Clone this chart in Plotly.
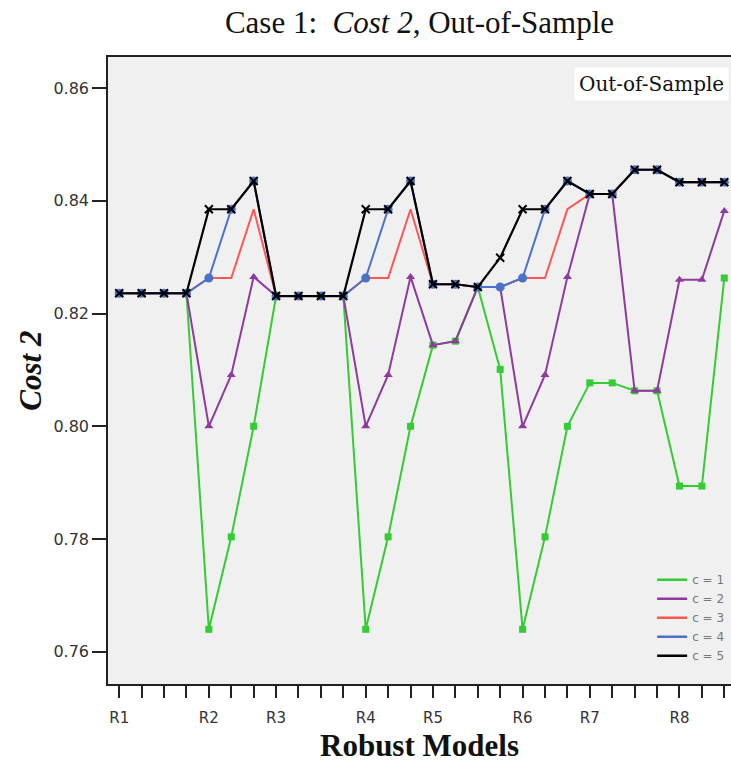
import plotly.graph_objects as go

# ---- data ----
x_idx = list(range(28))
tick_labels = ["R1", "", "", "", "R2", "", "", "R3", "", "", "", "R4", "", "", "R5", "", "", "",
               "R6", "", "", "R7", "", "", "", "R8", "", ""]
y_ticks = [0.76, 0.78, 0.80, 0.82, 0.84, 0.86]

c1 = [0.8236, 0.8236, 0.8236, 0.8236, 0.7640, 0.7804, 0.8000,
      0.8231, 0.8231, 0.8231, 0.8231, 0.7640, 0.7804, 0.8000,
      0.8144, 0.8151, 0.8247, 0.8101, 0.7640, 0.7804, 0.8000,
      0.8077, 0.8077, 0.8063, 0.8063, 0.7894, 0.7894, 0.8263]
c2 = [0.8236, 0.8236, 0.8236, 0.8236, 0.8000, 0.8091, 0.8265,
      0.8231, 0.8231, 0.8231, 0.8231, 0.8000, 0.8091, 0.8265,
      0.8144, 0.8151, 0.8247, 0.8247, 0.8000, 0.8091, 0.8265,
      0.8412, 0.8412, 0.8063, 0.8063, 0.8260, 0.8260, 0.8382]
c3 = [0.8236, 0.8236, 0.8236, 0.8236, 0.8263, 0.8263, 0.8385,
      0.8231, 0.8231, 0.8231, 0.8231, 0.8263, 0.8263, 0.8385,
      0.8252, 0.8252, 0.8247, 0.8247, 0.8263, 0.8263, 0.8385,
      0.8412, 0.8412, 0.8455, 0.8455, 0.8433, 0.8433, 0.8433]
c4 = [0.8236, 0.8236, 0.8236, 0.8236, 0.8263, 0.8385, 0.8435,
      0.8231, 0.8231, 0.8231, 0.8231, 0.8263, 0.8385, 0.8435,
      0.8252, 0.8252, 0.8247, 0.8247, 0.8263, 0.8385, 0.8435,
      0.8412, 0.8412, 0.8455, 0.8455, 0.8433, 0.8433, 0.8433]
c5 = [0.8236, 0.8236, 0.8236, 0.8236, 0.8385, 0.8385, 0.8435,
      0.8231, 0.8231, 0.8231, 0.8231, 0.8385, 0.8385, 0.8435,
      0.8252, 0.8252, 0.8247, 0.8299, 0.8385, 0.8385, 0.8435,
      0.8412, 0.8412, 0.8455, 0.8455, 0.8433, 0.8433, 0.8433]

series = [
    ("c = 1", c1, "#33cc33", "square", 7, 2),
    ("c = 2", c2, "#8e3a9e", "triangle-up", 8, 2),
    ("c = 3", c3, "#ff5555", None, 0, 2),
    ("c = 4", c4, "#4a72c8", "circle", 9, 2),
    ("c = 5", c5, "#000000", "x-thin", 8, 2.2),
]

fig = go.Figure()
for name, ys, col, sym, size, lw in series:
    if sym is None:
        fig.add_trace(go.Scatter(x=x_idx, y=ys, mode="lines", line=dict(color=col, width=lw),
                                 showlegend=False))
    elif sym == "x-thin":
        fig.add_trace(go.Scatter(x=x_idx, y=ys, mode="lines+markers", line=dict(color=col, width=lw),
                                 marker=dict(symbol=sym, size=size, line=dict(color=col, width=2)),
                                 showlegend=False))
    else:
        fig.add_trace(go.Scatter(x=x_idx, y=ys, mode="lines+markers", line=dict(color=col, width=lw),
                                 marker=dict(symbol=sym, size=size, color=col),
                                 showlegend=False))
# legend entries (lines only)
for name, ys, col, sym, size, lw in series:
    fig.add_trace(go.Scatter(x=[None], y=[None], mode="lines", name=name,
                             line=dict(color=col, width=2.5)))

serif = "Liberation Serif, Times New Roman, serif"
sans = "DejaVu Sans, Arial, sans-serif"

fig.update_layout(
    width=731, height=762,
    margin=dict(l=108, r=0, t=57, b=78),
    paper_bgcolor="white", plot_bgcolor="#f0f0f0",
    title=dict(text="Case 1:  <i>Cost</i> <i>2</i>, Out-of-Sample", x=0.5, xref="paper",
               y=1 - 22 / 762, yref="container", xanchor="center", yanchor="middle",
               font=dict(family=serif, size=31, color="#111")),
    showlegend=True,
    legend=dict(x=0.997, y=0.022, xanchor="right", yanchor="bottom", bgcolor="rgba(0,0,0,0)",
                font=dict(family=sans, size=12, color="#777"),
                tracegroupgap=0, itemwidth=30),
    xaxis=dict(range=[-0.5, 27.3], tickvals=x_idx, ticktext=tick_labels, ticks="outside",
               ticklen=12, tickwidth=2, tickcolor="#222", showline=True, linecolor="#222",
               linewidth=1.5, mirror=True, showgrid=False, zeroline=False,
               ticklabelstandoff=7,
               tickfont=dict(family=sans, size=15, color="#333")),
    yaxis=dict(range=[0.7543, 0.8655], tickvals=y_ticks,
               tickformat=".2f", ticks="outside", ticklen=14, tickwidth=1.5, tickcolor="#222",
               showline=True, linecolor="#222", linewidth=1.5, showgrid=False, zeroline=False,
               tickfont=dict(family=sans, size=16, color="#333")),
    annotations=[
        dict(text="Out-of-Sample", xref="paper", yref="paper", x=0.996, y=0.957,
             xanchor="right", yanchor="middle", showarrow=False, bgcolor="white",
             borderpad=4, font=dict(family="DejaVu Serif, serif", size=20, color="#111")),
        dict(text="<b><i>Cost 2</i></b>", xref="paper", yref="paper", x=-0.125, y=0.5,
             textangle=-90, showarrow=False, xanchor="center", yanchor="middle",
             font=dict(family=serif, size=31, color="#111")),
        dict(text="<b>Robust Models</b>", xref="paper", yref="paper", x=0.5, y=(684 - 745) / 627,
             showarrow=False, xanchor="center", yanchor="middle",
             font=dict(family=serif, size=31, color="#111")),
    ],
)

fig.write_html("out.html", config={"displayModeBar": False},
               post_script="document.body.style.margin='0';document.body.style.overflow='hidden';")
